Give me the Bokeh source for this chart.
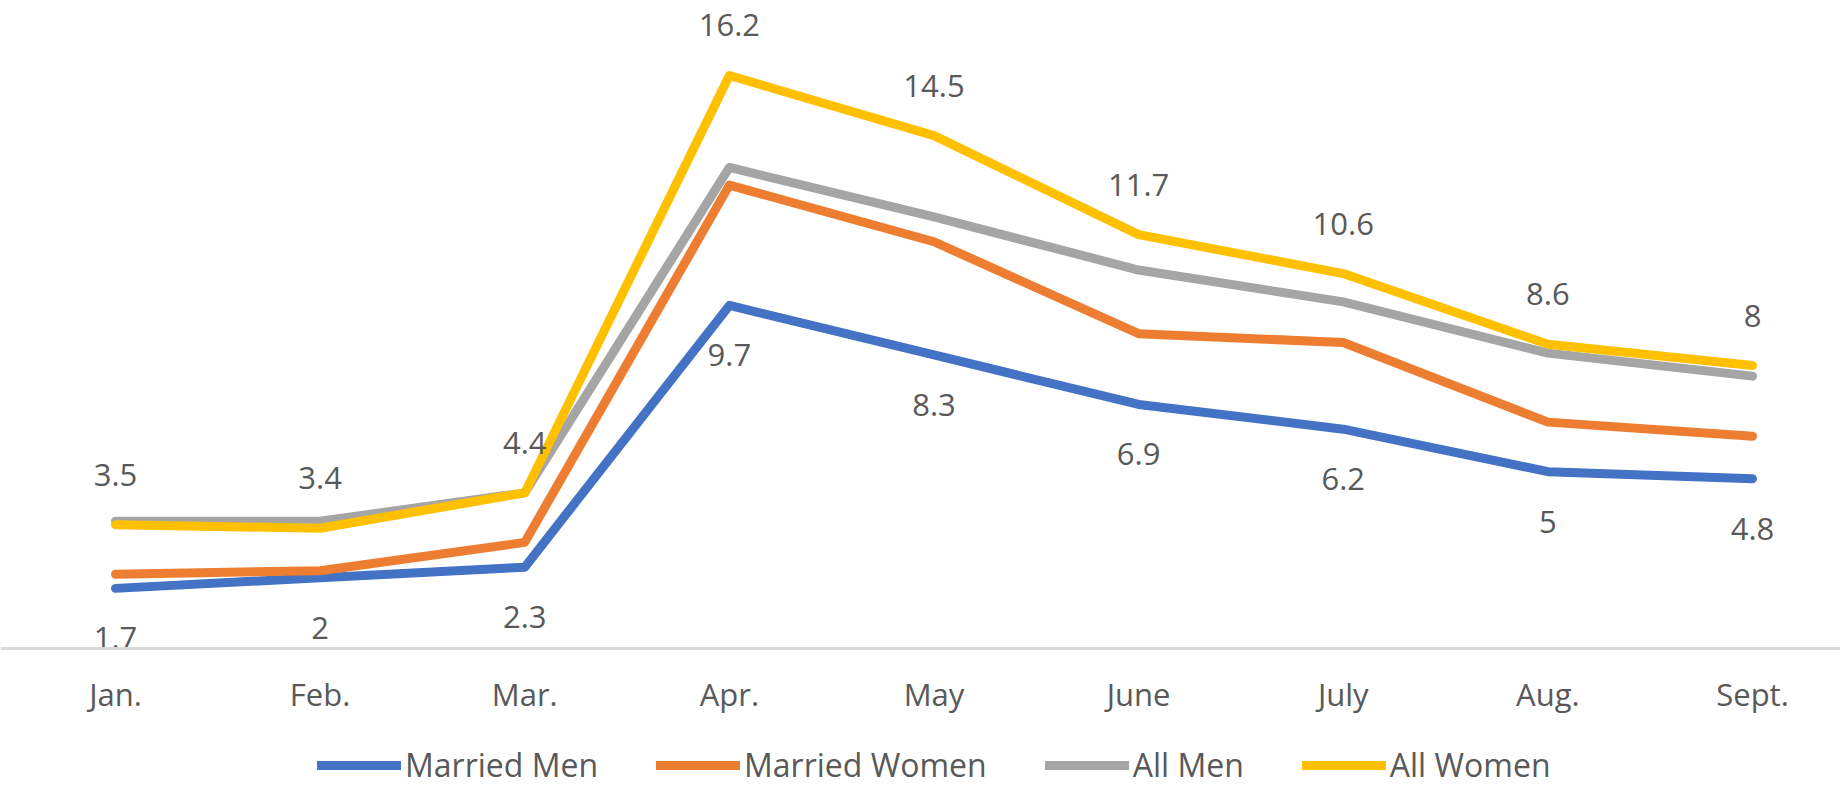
from bokeh.plotting import figure
from bokeh.models import Range1d, Legend, LegendItem, ColumnDataSource, Span
from bokeh.core.properties import value
from bokeh.embed import file_html
from bokeh.resources import INLINE

months = ["Jan.", "Feb.", "Mar.", "Apr.", "May", "June", "July", "Aug.", "Sept."]
married_men = [1.7, 2.0, 2.3, 9.7, 8.3, 6.9, 6.2, 5.0, 4.8]
married_women = [2.1, 2.2, 3.0, 13.1, 11.5, 8.9, 8.65, 6.4, 6.0]
all_men = [3.6, 3.6, 4.4, 13.6, 12.2, 10.7, 9.8, 8.35, 7.7]
all_women = [3.5, 3.4, 4.4, 16.2, 14.5, 11.7, 10.6, 8.6, 8.0]

series = [
    ("Married Men", married_men, "#4472C4"),
    ("Married Women", married_women, "#ED7D31"),
    ("All Men", all_men, "#A5A5A5"),
    ("All Women", all_women, "#FFC000"),
]

FONT = "Open Sans"
TXT = "#595959"
FS = "31px"

W, H = 1840, 788
idx = list(range(len(months)))

p = figure(width=W, height=H, output_backend="svg", toolbar_location=None,
           x_range=Range1d(-0.562, 8.430), y_range=Range1d(-3.958, 18.32))
p.min_border_left = 0
p.min_border_right = 0
p.min_border_top = 0
p.min_border_bottom = 0
p.outline_line_color = None
p.xgrid.visible = False
p.ygrid.visible = False
p.xaxis.visible = False
p.yaxis.visible = False

# category axis line at zero
p.add_layout(Span(location=0, dimension="width", line_color="#D9D9D9", line_width=3))

# category labels
src_ax = ColumnDataSource(dict(x=idx, y=[0] * len(idx), t=months))
p.text("x", "y", text="t", source=src_ax, text_font=value(FONT), text_font_size=FS,
       text_color=TXT, text_align="center", text_baseline="alphabetic", y_offset=45)

items = []
for name, vals, col in series:
    src = ColumnDataSource(dict(x=idx, y=vals))
    r = p.line("x", "y", source=src, line_color=col, line_width=9,
               line_cap="round", line_join="round")
    items.append(LegendItem(label=name, renderers=[r]))

# data labels: All Women above, Married Men below
src_w = ColumnDataSource(dict(x=idx, y=all_women, t=[f"{v:g}" for v in all_women]))
p.text("x", "y", text="t", source=src_w, text_font=value(FONT), text_font_size=FS,
       text_color=TXT, text_align="center", text_baseline="alphabetic", y_offset=-50)
src_m = ColumnDataSource(dict(x=idx, y=married_men, t=[f"{v:g}" for v in married_men]))
p.text("x", "y", text="t", source=src_m, text_font=value(FONT), text_font_size=FS,
       text_color=TXT, text_align="center", text_baseline="alphabetic", y_offset=50)

legend = Legend(items=items, orientation="horizontal", location=(317, 2),
                glyph_width=84, glyph_height=20, label_standoff=4, spacing=58,
                padding=0, margin=0, border_line_color=None, background_fill_alpha=0,
                label_text_font=FONT, label_text_font_size="32px", label_text_color=TXT)
p.add_layout(legend)

open("out.html", "w").write(file_html(p, INLINE))
